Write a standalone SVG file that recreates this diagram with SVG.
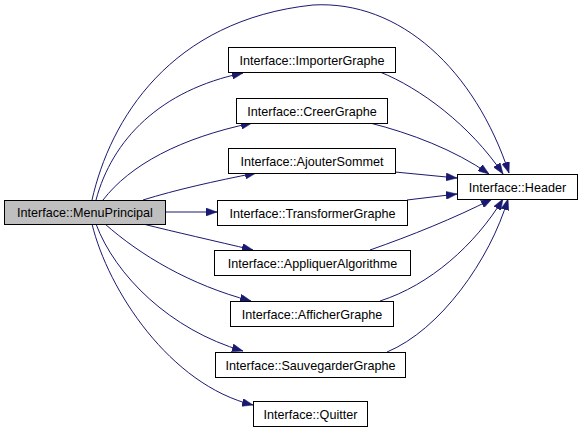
<svg xmlns="http://www.w3.org/2000/svg" width="583" height="434" viewBox="0 0 583 434">
<style>
.n rect{fill:#ffffff;stroke:#000000;stroke-width:1}
#MenuPrincipal rect{fill:#bfbfbf}
.n text{font-family:"Liberation Sans",Arial,sans-serif;font-size:12.6px;text-anchor:middle;fill:#000000}
.e path{fill:none;stroke:#191970;stroke-width:1;marker-end:url(#arr)}
</style>
<defs>
<marker id="arr" viewBox="0 0 11 8" refX="11" refY="4" markerWidth="11" markerHeight="8" markerUnits="userSpaceOnUse" orient="auto">
<path d="M0,0 L11,4 L0,8 Z" fill="#191970" stroke="#191970" stroke-width="0.5"/>
</marker>
</defs>
<rect width="583" height="434" fill="#ffffff"/>
<g id="edges" class="e">
<path d="M92,200 C110,120 170,20 313,5 C400,0 475,70 509,173"/>
<path d="M96,200 C112,140 160,90 243,73"/>
<path d="M103,200 C130,165 180,138 252,123"/>
<path d="M143,200 C175,190 215,181 256,173"/>
<path d="M166,212 L217,212"/>
<path d="M143,224 C175,232 215,241 253,250"/>
<path d="M105,224 C140,255 190,285 251,301"/>
<path d="M96,224 C115,275 170,330 243,351"/>
<path d="M92,224 C108,290 170,385 253,405"/>
<path d="M380,72 C420,88 470,125 503,174"/>
<path d="M370,123 C410,133 455,150 489,174"/>
<path d="M395,172 L457,178"/>
<path d="M407,200 L457,194"/>
<path d="M370,250 C410,236 455,218 492,199"/>
<path d="M380,301 C430,285 475,245 503,199"/>
<path d="M387,352 C440,330 490,260 508,199"/>
</g>
<g id="MenuPrincipal" class="n"><rect x="4.5" y="200.5" width="161" height="24"/><text x="85" y="217">Interface::MenuPrincipal</text></g>
<g id="ImporterGraphe" class="n"><rect x="228.5" y="47.5" width="167" height="25"/><text x="312" y="64.5">Interface::ImporterGraphe</text></g>
<g id="CreerGraphe" class="n"><rect x="236.5" y="98.5" width="151" height="25"/><text x="312" y="115.5">Interface::CreerGraphe</text></g>
<g id="AjouterSommet" class="n"><rect x="228.5" y="148.5" width="167" height="25"/><text x="312" y="165.5">Interface::AjouterSommet</text></g>
<g id="TransformerGraphe" class="n"><rect x="217.5" y="200.5" width="190" height="25"/><text x="312.5" y="217.5">Interface::TransformerGraphe</text></g>
<g id="AppliquerAlgorithme" class="n"><rect x="214.5" y="250.5" width="196" height="25"/><text x="312.5" y="267.5">Interface::AppliquerAlgorithme</text></g>
<g id="AfficherGraphe" class="n"><rect x="230.5" y="301.5" width="163" height="25"/><text x="312" y="318.5">Interface::AfficherGraphe</text></g>
<g id="SauvegarderGraphe" class="n"><rect x="215.5" y="352.5" width="190" height="25"/><text x="310.5" y="369.5">Interface::SauvegarderGraphe</text></g>
<g id="Quitter" class="n"><rect x="253.5" y="401.5" width="114" height="25"/><text x="310.5" y="418.5">Interface::Quitter</text></g>
<g id="Header" class="n"><rect x="457.5" y="174.5" width="120" height="25"/><text x="517.5" y="191.5">Interface::Header</text></g>
</svg>
